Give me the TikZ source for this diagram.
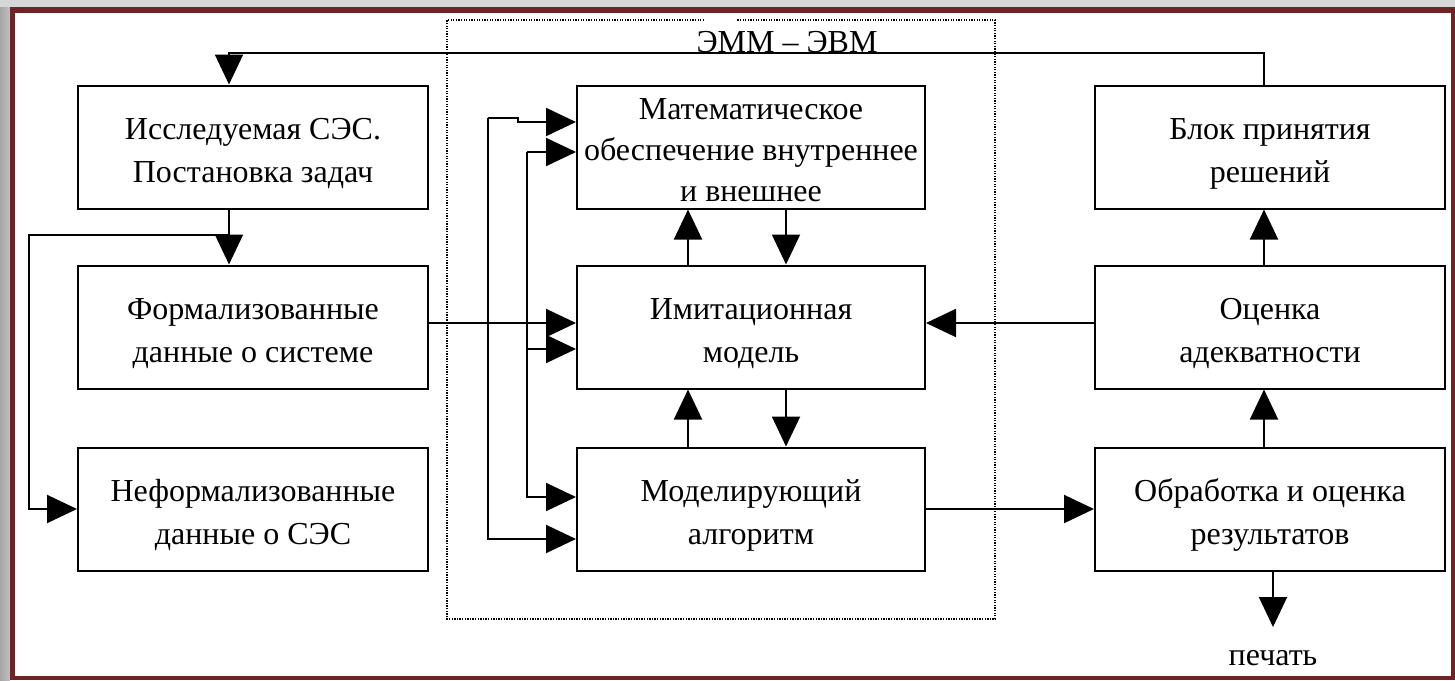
\documentclass[tikz,border=0pt]{standalone}
\usepackage{fontspec}
\setmainfont{Liberation Serif}
\usetikzlibrary{arrows.meta}
\definecolor{frame}{RGB}{110,36,36}
\definecolor{outer}{RGB}{215,215,215}
\newcommand{\blktext}[2][-5pt]{\raisebox{#1}[\height][\depth]{\begin{tabular}{@{}c@{}}#2\end{tabular}}}
\newcommand{\blktextiii}[1]{\raisebox{-11pt}[55pt][55pt]{\begin{tabular}{@{}c@{}}#1\end{tabular}}}
\tikzset{
  blk/.style={draw, line width=2pt, minimum width=350pt, minimum height=123pt,
    inner sep=0pt, align=center, font=\fontsize{32}{43}\selectfont},
  arr/.style={line width=2pt, -{Triangle[length=30pt,width=28pt]}},
  dotbox/.style={line width=1.3pt, dash pattern=on 1.3pt off 1.3pt},
  lbl/.style={font=\fontsize{32}{43}\selectfont, inner sep=0pt}
}
\begin{document}
\begin{tikzpicture}[x=1pt,y=-1pt]
\useasboundingbox (0,0) rectangle (1455,680);
% background and frame
\fill[outer] (0,0) rectangle (1455,680);
\shade[left color=gray!70, right color=gray!50] (0,7) rectangle (10,680);
\fill[frame] (10,7) rectangle (1455,680);
\fill[white] (15,13) rectangle (1451,676);

% dotted EMM-EVM box
\draw[dotbox] (704,20) -- (447,20) -- (447,619) -- (995,619) -- (995,20) -- (737,20);

% blocks
\node[blk] (A) at (253,147) {\blktext{Исследуемая СЭС.\\Постановка задач}};
\node[blk] (B) at (253,327) {\blktext{Формализованные\\данные о системе}};
\node[blk] (C) at (253,509) {\blktext{Неформализованные\\данные о СЭС}};
\node[blk, minimum width=348pt] (M1) at (751,147) {\blktextiii{Математическое\\[-2pt]обеспечение внутреннее\\[-2pt]и внешнее}};
\node[blk, minimum width=348pt] (M2) at (751,327) {\blktext{Имитационная\\модель}};
\node[blk, minimum width=348pt] (M3) at (751,509) {\blktext{Моделирующий\\алгоритм}};
\node[blk] (R1) at (1270,147) {\blktext{Блок принятия\\решений}};
\node[blk] (R2) at (1270,327) {\blktext{Оценка\\адекватности}};
\node[blk] (R3) at (1270,509) {\blktext{Обработка и оценка\\результатов}};

\node[lbl, anchor=base] (lab) at (787,52) {ЭММ – ЭВМ};
\coordinate (pr) at (1273,627);
\node[lbl] (print) at (1273,658) {печать};

% helper coordinates
\coordinate (fbR) at (1264,53);
\coordinate (fbL) at (229,53);
\coordinate (lp) at (29,235);
\coordinate (y323) at (0,323);
\coordinate (u) at (688,0);
\coordinate (d) at (786,0);
\coordinate (j1) at (488,118);
\coordinate (j1b) at (518,118);
\coordinate (j1c) at (518,122);
\coordinate (j1e) at (488,539);
\coordinate (j2) at (527,152);
\coordinate (j2m) at (527,349);
\coordinate (j2e) at (527,497);

% feedback from decision block to object
\draw[arr] (fbR |- R1.north) -- (fbR) -- (fbL) -- (fbL |- A.north);
% A -> B and loop to C
\draw[arr] (fbL |- A.south) -- (fbL |- B.north);
\draw[arr] (fbL |- lp) -- (lp) -- (lp |- C.west) -- (C.west);
% B -> model column
\draw[arr] (B.east |- y323) -- (M2.west |- y323);
\draw[arr] (j1) -- (j1b) -- (j1c) -- (j1c -| M1.west);
\draw[arr] (j1) -- (j1e) -- (j1e -| M3.west);
\draw[arr] (j2) -- (j2 -| M1.west);
\draw[arr] (j2) -- (j2e) -- (j2e -| M3.west);
\draw[arr] (j2m) -- (j2m -| M2.west);
% middle column links
\draw[arr] (M2.north -| u) -- (M1.south -| u);
\draw[arr] (M1.south -| d) -- (M2.north -| d);
\draw[arr] (M3.north -| u) -- (M2.south -| u);
\draw[arr] (M2.south -| d) -- (M3.north -| d);
% right column
\draw[arr] (R2.west |- y323) -- (M2.east |- y323);
\draw[arr] (M3.east) -- (R3.west);
\draw[arr] (R3.north -| fbR) -- (R2.south -| fbR);
\draw[arr] (R2.north -| fbR) -- (R1.south -| fbR);
\draw[arr] (R3.south -| pr) -- (pr);
\end{tikzpicture}
\end{document}
